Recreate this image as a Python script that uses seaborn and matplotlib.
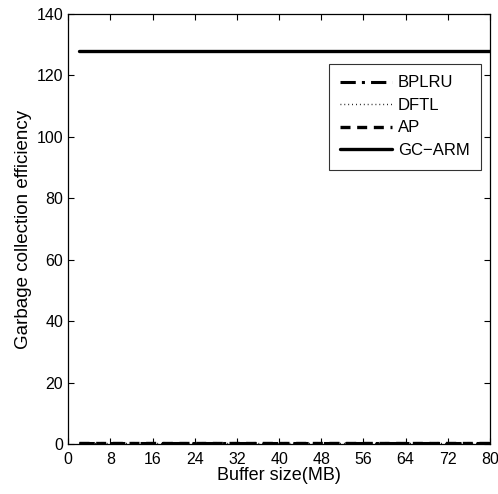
import matplotlib
matplotlib.use("Agg")
import matplotlib.pyplot as plt
import seaborn as sns
import pandas as pd

buffer_sizes = [2, 8, 16, 24, 32, 40, 48, 56, 64, 72, 80]
bplru = [0.5, 0.5, 0.5, 0.5, 0.5, 0.5, 0.5, 0.5, 0.5, 0.5, 0.5]
dftl = [0.5, 0.5, 0.5, 0.5, 0.5, 0.5, 0.5, 0.5, 0.5, 0.5, 0.5]
ap = [0.5, 0.5, 0.5, 0.5, 0.5, 0.5, 0.5, 0.5, 0.5, 0.5, 0.5]
gc_arm = [128, 128, 128, 128, 128, 128, 128, 128, 128, 128, 128]
series_names = ["BPLRU", "DFTL", "AP", "GC\u2212ARM"]
x_ticks = [0, 8, 16, 24, 32, 40, 48, 56, 64, 72, 80]
y_ticks = [0, 20, 40, 60, 80, 100, 120, 140]

sns.set_theme(style="white")
plt.rcParams['font.family'] = ['Liberation Sans', 'DejaVu Sans']
plt.rcParams['text.color'] = 'black'
plt.rcParams['axes.labelcolor'] = 'black'
plt.rcParams['xtick.color'] = 'black'
plt.rcParams['ytick.color'] = 'black'

fig = plt.figure(figsize=(4.98, 4.94), dpi=100)
ax = fig.add_axes([0.137, 0.101, 0.847, 0.871])

styles = {
    "BPLRU": dict(linestyle=(0, (5, 2, 1, 2)), linewidth=2.2),
    "DFTL": dict(linestyle=(0, (0.6, 2.2)), linewidth=1.0),
    "AP": dict(linestyle=(0, (3, 2)), linewidth=2.4),
    "GC\u2212ARM": dict(linestyle="-", linewidth=2.4),
}
for name, vals in zip(series_names, [bplru, dftl, ap, gc_arm]):
    df = pd.DataFrame({"x": buffer_sizes, "y": vals})
    sns.lineplot(data=df, x="x", y="y", ax=ax, color="black", label=name,
                 **styles[name])

ax.set_xlim(0, 80)
ax.set_ylim(0, 140)
ax.set_xticks(x_ticks)
ax.set_yticks(y_ticks)
ax.tick_params(direction="in", length=4, width=0.8, labelsize=11.5,
               top=True, right=True, bottom=True, left=True,
               colors="black", labelcolor="black")
ax.tick_params(axis="x", pad=6)
ax.tick_params(axis="y", pad=3.5)
for s in ax.spines.values():
    s.set_color("black")
    s.set_linewidth(0.9)
ax.set_xlabel("Buffer size(MB)", fontsize=13, labelpad=0, color="black")
ax.set_ylabel("Garbage collection efficiency", fontsize=13.5, labelpad=3, color="black")

leg = ax.legend(loc="upper right", bbox_to_anchor=(0.979, 0.884), fontsize=12,
                frameon=True, fancybox=False, handlelength=3.1, borderpad=0.7,
                labelspacing=0.45, handletextpad=0.35, borderaxespad=0,
                labelcolor="black")
leg.get_frame().set_edgecolor("black")
leg.get_frame().set_linewidth(0.8)

fig.savefig("out.png", dpi=100, facecolor="white")
